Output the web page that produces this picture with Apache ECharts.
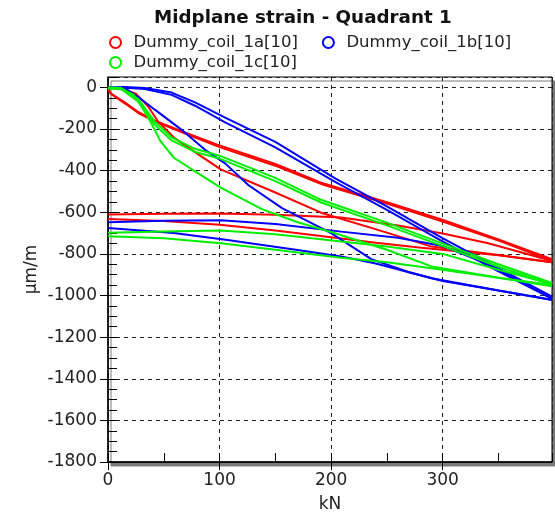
<!DOCTYPE html>
<html><head><meta charset="utf-8">
<script src="https://cdn.jsdelivr.net/npm/echarts@6/dist/echarts.min.js"></script>
<style>html,body{margin:0;padding:0;background:#fff}#c{width:555px;height:513px}</style>
</head><body><div id="c"></div>
<script>
// ---- data (kN, µm/m) ----
const seriesNames = ['Dummy_coil_1a[10]', 'Dummy_coil_1b[10]', 'Dummy_coil_1c[10]'];
const xTicks = [0, 100, 200, 300];
const yTicks = [0, -200, -400, -600, -800, -1000, -1200, -1400, -1600, -1800];

// Dummy_coil_1a (red)
const redLoad1 = [[0,0],[2,-27],[15,-72],[27,-118],[42,-160],[66,-210],[98,-275],[150,-368],[191,-458],[250,-552],[299,-635],[350,-730],[398,-826]];
const redLoad2 = [[0,-4],[3,-33],[16,-80],[28,-126],[44,-168],[68,-220],[100,-287],[152,-380],[193,-468],[252,-562],[300,-645],[352,-740],[398,-834]];
const redLoad3 = [[0,0],[12,-6],[25,-30],[36,-92],[45,-165],[60,-245],[80,-318],[101,-394],[150,-505],[191,-602],[250,-698],[290,-765],[350,-805],[398,-840]];
const redUnload1 = [[398,-834],[370,-792],[340,-748],[300,-702],[260,-664],[209,-625],[150,-612],[100,-606],[50,-607],[0,-611]];
const redUnload2 = [[398,-840],[350,-806],[281,-771],[240,-746],[200,-720],[150,-688],[100,-660],[50,-642],[0,-632]];

// Dummy_coil_1b (blue)
const blueLoad1 = [[0,0],[15,2],[33,-3],[57,-25],[78,-72],[105,-145],[150,-262],[204,-438],[250,-572],[299,-722],[350,-868],[398,-1005]];
const blueLoad2 = [[0,-4],[15,-2],[33,-8],[57,-36],[78,-88],[105,-168],[150,-288],[204,-455],[250,-588],[299,-738],[350,-884],[398,-1015]];
const blueLoad3 = [[0,0],[15,-3],[28,-50],[42,-107],[66,-204],[87,-300],[105,-365],[126,-470],[156,-580],[175,-632],[200,-700],[236,-825],[270,-888],[300,-930],[350,-976],[398,-1020]];
const blueUnload1 = [[398,-1015],[370,-935],[340,-848],[300,-762],[260,-722],[209,-693],[150,-656],[101,-638],[50,-641],[0,-648]];
const blueUnload2 = [[398,-1022],[350,-976],[290,-917],[240,-846],[209,-812],[170,-781],[107,-733],[59,-700],[0,-675]];

// Dummy_coil_1c (green)
const greenLoad1 = [[0,0],[10,-3],[23,-35],[30,-90],[38,-164],[47,-258],[59,-338],[83,-420],[101,-482],[138,-585],[170,-648],[200,-695],[250,-780],[290,-860],[350,-915],[398,-950]];
const greenLoad2 = [[0,0],[12,-3],[27,-55],[42,-165],[57,-240],[78,-295],[100,-328],[150,-435],[191,-540],[250,-650],[299,-748],[350,-850],[398,-940]];
const greenLoad3 = [[0,-5],[12,-9],[27,-68],[42,-180],[57,-255],[78,-310],[100,-342],[150,-450],[191,-553],[250,-663],[299,-760],[350,-862],[398,-948]];
const greenUnload1 = [[398,-945],[350,-876],[300,-800],[250,-765],[209,-741],[150,-706],[101,-688],[50,-692],[0,-698]];
const greenUnload2 = [[398,-956],[350,-915],[290,-869],[250,-840],[209,-818],[150,-780],[101,-749],[50,-725],[0,-715]];

// ---- chart ----
const FONT = 'DejaVu Sans';
const RED = '#ff0000', BLUE = '#0000ff', GREEN = '#00ee00';
function curve(name, color, data) {
  return { type: 'line', name: name, data: data, symbol: 'none', showSymbol: false,
    lineStyle: { color: color, width: 2 }, itemStyle: { color: color },
    xAxisIndex: 0, yAxisIndex: 0, animation: false };
}
const series = [
  curve(seriesNames[0], RED, redLoad1), curve(seriesNames[0], RED, redLoad2), curve(seriesNames[0], RED, redLoad3),
  curve(seriesNames[0], RED, redUnload1), curve(seriesNames[0], RED, redUnload2),
  curve(seriesNames[1], BLUE, blueLoad1), curve(seriesNames[1], BLUE, blueLoad2), curve(seriesNames[1], BLUE, blueLoad3),
  curve(seriesNames[1], BLUE, blueUnload1), curve(seriesNames[1], BLUE, blueUnload2),
  curve(seriesNames[2], GREEN, greenLoad1), curve(seriesNames[2], GREEN, greenLoad2), curve(seriesNames[2], GREEN, greenLoad3),
  curve(seriesNames[2], GREEN, greenUnload1), curve(seriesNames[2], GREEN, greenUnload2)
];
const txt = '#222';
const chart = echarts.init(document.getElementById('c'), null, { renderer: 'canvas' });
chart.setOption({
  animation: false,
  backgroundColor: '#fff',
  title: { text: 'Midplane strain - Quadrant 1', left: 149, top: 4,
    textStyle: { fontFamily: FONT, fontSize: 18.3, fontWeight: 'bold', color: '#111' } },
  legend: [
    { data: [seriesNames[0], seriesNames[1]], left: 104, top: 29, icon: 'emptyCircle', itemWidth: 26, itemHeight: 11, itemGap: 24,
      textStyle: { fontFamily: FONT, fontSize: 16.5, color: txt }, selectedMode: false },
    { data: [seriesNames[2]], left: 104, top: 49, icon: 'emptyCircle', itemWidth: 26, itemHeight: 11,
      textStyle: { fontFamily: FONT, fontSize: 16.5, color: txt }, selectedMode: false }
  ],
  grid: { left: 108, right: 3, top: 77, bottom: 51, show: true, backgroundColor: '#fff', borderColor: '#000', borderWidth: 1,
    shadowColor: '#7a7a7a', shadowOffsetX: 3, shadowOffsetY: 4, shadowBlur: 0, containLabel: false, outerBoundsMode: 'none' },
  xAxis: [
    { type: 'value', min: 0, max: 398, interval: 100, name: 'kN', nameLocation: 'middle', nameGap: 34, nameMoveOverlap: false,
      nameTextStyle: { fontFamily: FONT, fontSize: 17, color: txt },
      axisLine: { onZero: false, lineStyle: { color: '#000', width: 1.5 } },
      axisTick: { show: true, inside: false, length: 8, lineStyle: { color: '#000' } },
      axisLabel: { fontFamily: FONT, fontSize: 17, color: txt, margin: 10, showMaxLabel: false,
        formatter: v => (xTicks.indexOf(v) >= 0 ? String(v) : '') },
      splitLine: { show: true, lineStyle: { color: '#222', type: [4, 4], width: 1 } } },
    { type: 'value', min: 0, max: 398, interval: 50, position: 'bottom', gridIndex: 0,
      axisLine: { onZero: false, show: false },
      axisTick: { show: true, inside: true, length: 9, lineStyle: { color: '#000' } },
      axisLabel: { show: false }, splitLine: { show: false } }
  ],
  yAxis: [
    { type: 'value', min: -1800, max: 50, interval: 200, name: 'µm/m', nameLocation: 'middle', nameGap: 68, nameMoveOverlap: false,
      nameTextStyle: { fontFamily: FONT, fontSize: 17, color: txt },
      axisLine: { onZero: false, lineStyle: { color: '#000', width: 1.5 } },
      axisTick: { show: true, inside: false, length: 8, lineStyle: { color: '#000' } },
      axisLabel: { fontFamily: FONT, fontSize: 17, color: txt, margin: 11, showMaxLabel: false,
        formatter: v => (yTicks.indexOf(v) >= 0 ? String(v) : '') },
      splitLine: { show: true, lineStyle: { color: '#222', type: [4, 4], width: 1 } } },
    { type: 'value', min: -1800, max: 50, interval: 50, position: 'left', gridIndex: 0,
      axisLine: { onZero: false, show: false },
      axisTick: { show: true, inside: true, length: 9, lineStyle: { color: '#000' } },
      axisLabel: { show: false }, splitLine: { show: false } }
  ],
  series: series
});
</script></body></html>
